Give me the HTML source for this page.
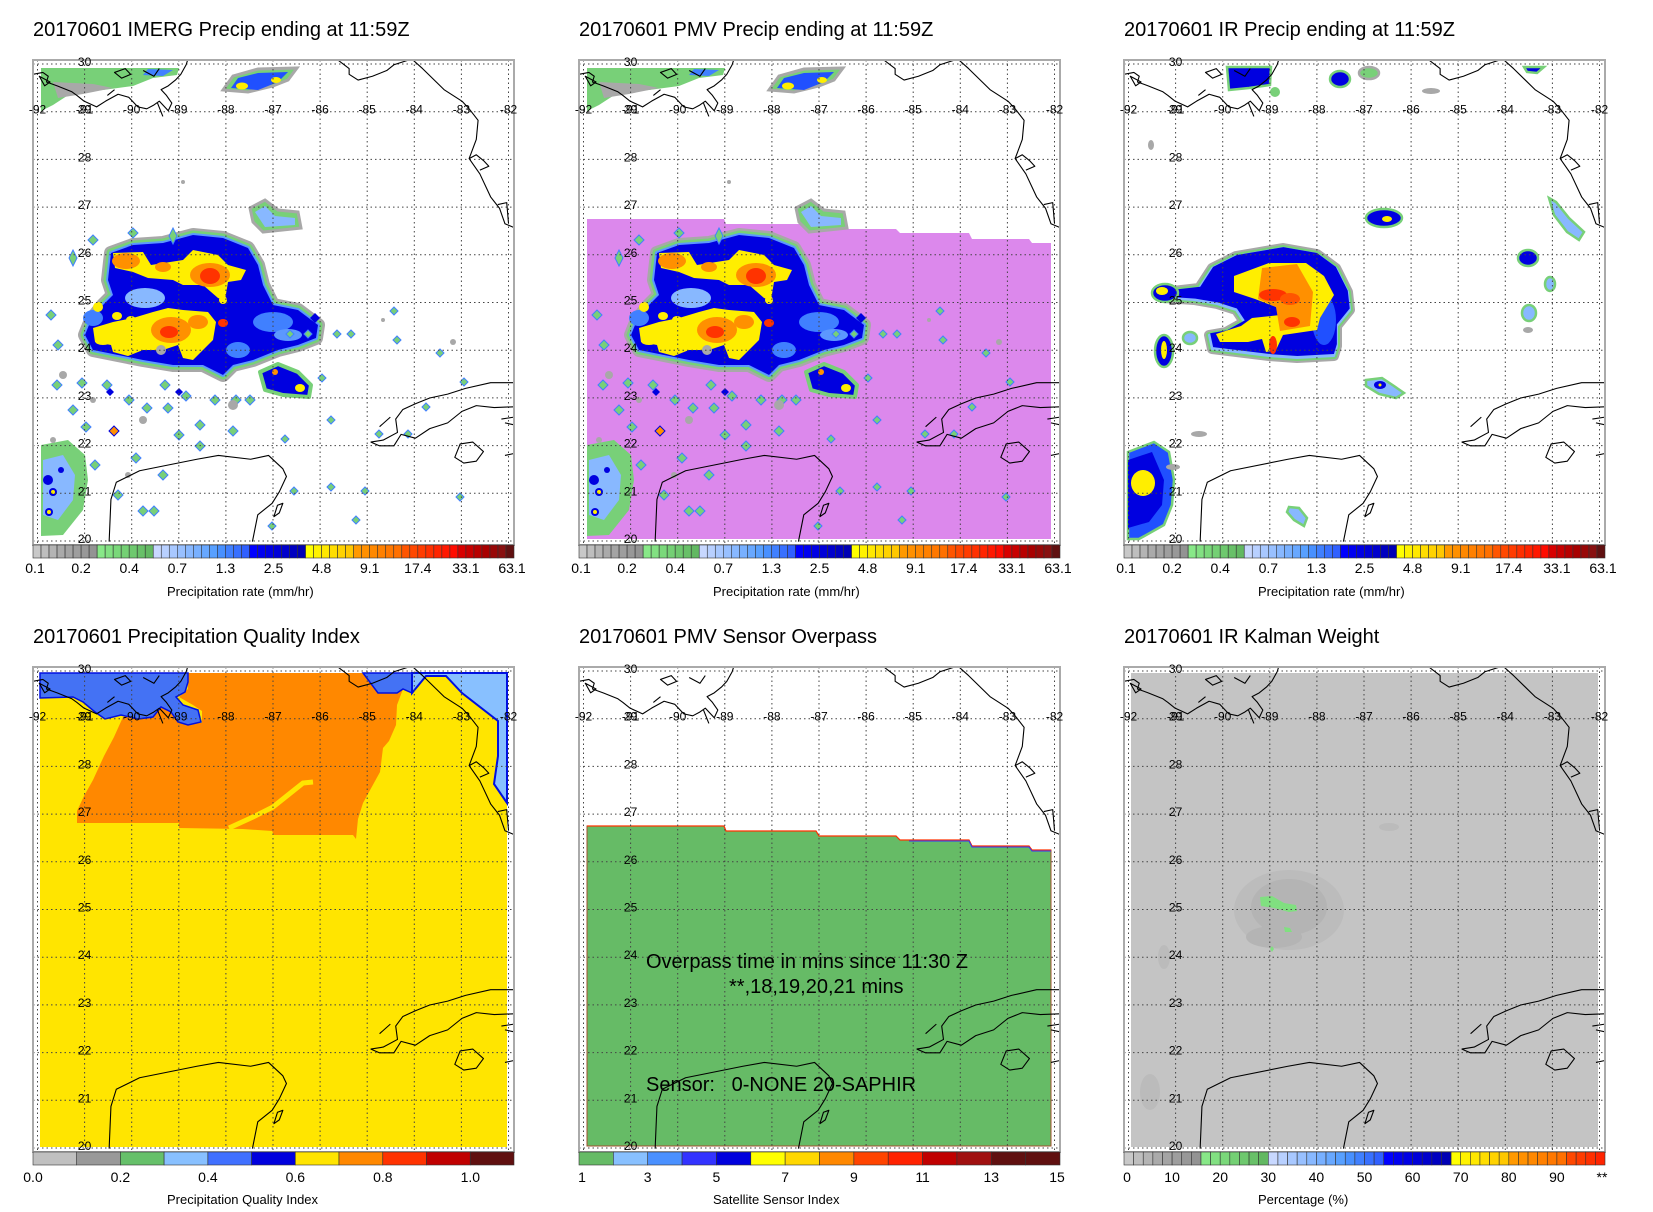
<!DOCTYPE html>
<html><head><meta charset="utf-8"><style>
html,body{margin:0;padding:0;background:#fff}
svg{display:block}
text{font-family:"Liberation Sans",sans-serif;fill:#000}
.t{font-size:20px}
.ml{font-size:12px;text-anchor:middle}
.cl{font-size:14px;text-anchor:middle}
.al{font-size:13px}
</style></head><body>
<svg width="1653" height="1212" viewBox="0 0 1653 1212" xmlns="http://www.w3.org/2000/svg">
<defs>
<clipPath id="clip"><rect x="0" y="0" width="481" height="485"/></clipPath>
<path id="cluc" d="M78,193 L100,185 L130,183 L160,175 L190,178 L215,188 L225,205 L230,225 L240,245 L265,250 L285,265 L283,278 L265,285 L245,290 L220,300 L200,305 L190,315 L170,305 L140,305 L110,300 L85,295 L60,290 L52,275 L58,260 L70,245 L80,235 L75,220 Z"/>
<path id="irc" d="M40,232 L75,228 L88,208 L112,196 L159,188 L193,194 L212,208 L224,232 L226,250 L213,266 L213,286 L210,296 L173,298 L145,296 L88,289 L85,275 L102,272 L120,262 L112,250 L93,244 L70,240 L40,238 Z"/>
<g id="grid" stroke="#444" stroke-width="1" stroke-dasharray="1.5 3" fill="none">
<path d="M4.5 0V485M51.6 0V485M98.7 0V485M145.8 0V485M192.9 0V485M240 0V485M287.1 0V485M334.2 0V485M381.3 0V485M428.4 0V485M475.5 0V485"/>
<path d="M0 4H481M0 51.7H481M0 99.4H481M0 147.1H481M0 194.8H481M0 242.5H481M0 290.2H481M0 337.9H481M0 385.6H481M0 433.3H481M0 481H481"/>
</g>
<g id="coast" fill="none" stroke="#000" stroke-width="1.1" stroke-linejoin="round">
<g transform="translate(4.5 4) scale(0.3582 0.383) translate(-105 -183)">
<path vector-effect="non-scaling-stroke" d="M92,210 L120,205 L135,215 L130,230 L160,240 L200,255 L215,265 L235,280 L270,295 L295,280 L330,262 L360,270 L385,295 L410,300 L430,290 L445,280 L460,295 L470,305 L480,285 L465,265 L450,250 L470,240 L490,225 L505,210 L520,185 L525,170"/>
<path vector-effect="non-scaling-stroke" d="M110,215 L140,230 L125,240 Z M320,205 L350,195 L365,210 L340,220 Z M400,200 L430,215 L445,195 M440,285 L455,320 M300,265 L320,250"/>
<path vector-effect="non-scaling-stroke" d="M940,170 L975,195 L975,210 L1000,225 L1040,215 L1080,200 L1100,185 L1150,170 L1180,195 L1240,250 L1290,280 L1310,300 L1335,330 L1330,380 L1310,430 L1340,470 L1370,530 L1395,560 L1410,600 L1435,610"/>
<path vector-effect="non-scaling-stroke" d="M1310,430 L1330,420 L1350,435 L1365,450 L1340,460 M1390,550 L1415,545 L1420,600"/>
<path vector-effect="non-scaling-stroke" d="M305,1430 L310,1320 L325,1275 L390,1245 L550,1215 L610,1205 L700,1215 L750,1205 L790,1240 L800,1260 L780,1300 L760,1330 L720,1360 L705,1430"/>
<path vector-effect="non-scaling-stroke" d="M765,1365 L775,1335 L790,1330 L780,1355 Z"/>
<path vector-effect="non-scaling-stroke" d="M1035,1170 L1070,1165 L1110,1145 L1105,1110 L1125,1085 L1160,1070 L1200,1055 L1250,1045 L1300,1030 L1370,1015 L1435,1015 M1035,1170 L1060,1180 L1100,1180 L1120,1150 L1160,1160 L1200,1135 L1250,1120 L1290,1090 L1330,1075 L1380,1080 L1435,1078 M1400,1110 L1435,1105 L1435,1125 L1410,1120 M1270,1210 L1285,1175 L1320,1170 L1350,1195 L1330,1220 L1295,1225 Z M1060,1130 L1090,1105 M1410,1205 L1435,1200"/>
</g></g>
<g id="pcb" stroke="#333" stroke-width="0.6">
<rect x="0" y="0" width="8.02" height="13" fill="#c8c8c8"/><rect x="8.02" y="0" width="8.02" height="13" fill="#bebebe"/><rect x="16.03" y="0" width="8.02" height="13" fill="#b4b4b4"/><rect x="24.05" y="0" width="8.02" height="13" fill="#aaaaaa"/><rect x="32.07" y="0" width="8.02" height="13" fill="#a4a4a4"/><rect x="40.08" y="0" width="8.02" height="13" fill="#9e9e9e"/><rect x="48.1" y="0" width="8.02" height="13" fill="#989898"/><rect x="56.12" y="0" width="8.02" height="13" fill="#939393"/>
<rect x="64.13" y="0" width="8.02" height="13" fill="#88e888"/><rect x="72.15" y="0" width="8.02" height="13" fill="#82e082"/><rect x="80.17" y="0" width="8.02" height="13" fill="#7ad87a"/><rect x="88.18" y="0" width="8.02" height="13" fill="#74d074"/><rect x="96.2" y="0" width="8.02" height="13" fill="#6ec86e"/><rect x="104.22" y="0" width="8.02" height="13" fill="#68c068"/><rect x="112.23" y="0" width="8.02" height="13" fill="#62b862"/>
<rect x="120.25" y="0" width="8.02" height="13" fill="#c8d8ff"/><rect x="128.27" y="0" width="8.02" height="13" fill="#b8d0ff"/><rect x="136.28" y="0" width="8.02" height="13" fill="#a8c8ff"/><rect x="144.3" y="0" width="8.02" height="13" fill="#98c0ff"/><rect x="152.32" y="0" width="8.02" height="13" fill="#88b8ff"/><rect x="160.33" y="0" width="8.02" height="13" fill="#78b0ff"/><rect x="168.35" y="0" width="8.02" height="13" fill="#68a8ff"/><rect x="176.37" y="0" width="8.02" height="13" fill="#58a0ff"/><rect x="184.38" y="0" width="8.02" height="13" fill="#4890ff"/><rect x="192.4" y="0" width="8.02" height="13" fill="#4080ff"/><rect x="200.42" y="0" width="8.02" height="13" fill="#3870ff"/><rect x="208.43" y="0" width="8.02" height="13" fill="#3060ff"/>
<rect x="216.45" y="0" width="8.02" height="13" fill="#0000ff"/><rect x="224.47" y="0" width="8.02" height="13" fill="#0000f0"/><rect x="232.48" y="0" width="8.02" height="13" fill="#0000e4"/><rect x="240.5" y="0" width="8.02" height="13" fill="#0000d8"/><rect x="248.52" y="0" width="8.02" height="13" fill="#0000cc"/><rect x="256.53" y="0" width="8.02" height="13" fill="#0000c0"/><rect x="264.55" y="0" width="8.02" height="13" fill="#0000b4"/>
<rect x="272.57" y="0" width="8.02" height="13" fill="#ffff00"/><rect x="280.58" y="0" width="8.02" height="13" fill="#fff200"/><rect x="288.6" y="0" width="8.02" height="13" fill="#ffe800"/><rect x="296.62" y="0" width="8.02" height="13" fill="#ffdd00"/><rect x="304.63" y="0" width="8.02" height="13" fill="#ffd200"/><rect x="312.65" y="0" width="8.02" height="13" fill="#ffc800"/>
<rect x="320.67" y="0" width="8.02" height="13" fill="#ff9900"/><rect x="328.68" y="0" width="8.02" height="13" fill="#ff9000"/><rect x="336.7" y="0" width="8.02" height="13" fill="#ff8800"/><rect x="344.72" y="0" width="8.02" height="13" fill="#ff8000"/><rect x="352.73" y="0" width="8.02" height="13" fill="#ff7800"/><rect x="360.75" y="0" width="8.02" height="13" fill="#ff7000"/>
<rect x="368.77" y="0" width="8.02" height="13" fill="#ff5500"/><rect x="376.78" y="0" width="8.02" height="13" fill="#ff4800"/><rect x="384.8" y="0" width="8.02" height="13" fill="#ff3c00"/><rect x="392.82" y="0" width="8.02" height="13" fill="#ff3000"/><rect x="400.83" y="0" width="8.02" height="13" fill="#ff2400"/><rect x="408.85" y="0" width="8.02" height="13" fill="#ff1800"/><rect x="416.87" y="0" width="8.02" height="13" fill="#ff0c00"/>
<rect x="424.88" y="0" width="8.02" height="13" fill="#d80000"/><rect x="432.9" y="0" width="8.02" height="13" fill="#c80000"/><rect x="440.92" y="0" width="8.02" height="13" fill="#b80000"/><rect x="448.93" y="0" width="8.02" height="13" fill="#a80000"/><rect x="456.95" y="0" width="8.02" height="13" fill="#980808"/><rect x="464.97" y="0" width="8.02" height="13" fill="#881010"/><rect x="472.98" y="0" width="8.02" height="13" fill="#601010"/>
</g>
<g id="clu">
<path d="M8,8 L146,8 L144,15 L120,18 L100,26 L70,30 L40,32 L20,45 L8,51 Z" fill="#78d078"/>
<path d="M20,22 L60,24 L80,28 L50,34 L25,38 Z" fill="#a8a8a8"/>
<path d="M115,9 L140,10 L130,16 L110,15 Z" fill="#4080ff"/>
<path d="M8,385 L35,380 L52,395 L55,420 L50,450 L30,475 L8,476 Z" fill="#78d078"/>
<path d="M10,400 L30,395 L42,415 L40,440 L25,460 L10,455 Z" fill="#88b8ff"/>
<circle cx="15" cy="420" r="5" fill="#0000e0"/><circle cx="20" cy="432" r="4" fill="#0000e0"/><circle cx="28" cy="410" r="3" fill="#0000e0"/><circle cx="16" cy="452" r="4" fill="#0000e0"/><circle cx="16" cy="452" r="2" fill="#ffee00"/><circle cx="20" cy="432" r="2" fill="#ffee00"/>
<path d="M190,30 L200,16 L225,9 L264,8 L255,20 L240,26 L215,32 Z" fill="#78d078" stroke="#a8a8a8" stroke-width="3"/>
<path d="M198,28 L205,18 L225,13 L255,12 L245,22 L225,30 Z" fill="#2050ff"/>
<ellipse cx="209" cy="26" rx="6" ry="3.5" fill="#ffee00"/><ellipse cx="243" cy="20" rx="5" ry="3" fill="#ffee00"/>
<path d="M217,148 L232,140 L245,150 L265,152 L268,168 L230,172 L220,162 Z" fill="#78d078" stroke="#a8a8a8" stroke-width="3"/>
<path d="M222,152 L232,146 L242,156 L262,158 L262,165 L232,167 Z" fill="#88b8ff"/>
<g stroke-linejoin="round">
<use href="#cluc" fill="#a8a8a8" stroke="#a8a8a8" stroke-width="14"/>
<use href="#cluc" fill="#78d078" stroke="#78d078" stroke-width="9"/>
<use href="#cluc" fill="#5c98ff" stroke="#5c98ff" stroke-width="4"/>
<use href="#cluc" fill="#0000e0"/>
</g>
<ellipse cx="112" cy="238" rx="20" ry="10" fill="#88b8ff"/><ellipse cx="240" cy="262" rx="20" ry="10" fill="#4080ff"/><ellipse cx="205" cy="290" rx="12" ry="8" fill="#4080ff"/><ellipse cx="60" cy="258" rx="10" ry="8" fill="#4080ff"/><ellipse cx="255" cy="275" rx="14" ry="6" fill="#5c98ff"/>
<path d="M80,193 L110,192 L118,205 L150,200 L160,190 L185,195 L195,205 L213,210 L208,220 L195,222 L192,240 L185,238 L170,225 L150,225 L140,220 L115,218 L100,212 L82,208 Z" fill="#ffee00"/>
<path d="M60,268 L80,262 L100,258 L120,252 L135,248 L150,250 L175,252 L183,262 L180,280 L170,290 L160,300 L150,298 L145,285 L130,290 L110,290 L95,296 L80,292 L78,285 L62,282 Z" fill="#ffee00"/>
<ellipse cx="93" cy="201" rx="14" ry="8" fill="#ff9000"/><ellipse cx="177" cy="215" rx="20" ry="12" fill="#ff9000"/><ellipse cx="138" cy="270" rx="20" ry="13" fill="#ff9000"/><ellipse cx="165" cy="262" rx="10" ry="7" fill="#ff9000"/><ellipse cx="130" cy="207" rx="8" ry="5" fill="#ff9000"/>
<ellipse cx="177" cy="216" rx="10" ry="8" fill="#ff3300"/><ellipse cx="136" cy="272" rx="9" ry="6" fill="#ff3300"/><ellipse cx="190" cy="263" rx="5" ry="4" fill="#ff3300"/>
<ellipse cx="70" cy="281" rx="8" ry="4" fill="#ffee00"/><ellipse cx="84" cy="256" rx="5" ry="4" fill="#ffee00"/><ellipse cx="65" cy="247" rx="5" ry="5" fill="#ffee00"/><ellipse cx="98" cy="260" rx="5" ry="4" fill="#ffee00"/><ellipse cx="190" cy="240" rx="4" ry="4" fill="#ffee00"/>
<path d="M227,312 L245,304 L265,312 L278,325 L276,337 L250,335 L232,330 Z" fill="#0000e0" stroke="#78d078" stroke-width="4" stroke-linejoin="round"/>
<ellipse cx="267" cy="328" rx="5" ry="4" fill="#ffee00"/><ellipse cx="242" cy="312" rx="3" ry="3" fill="#ff9000"/>
<g fill="#78d078" stroke="#4080ff" stroke-width="1">
<path d="M361,247l4,4-4,4-4-4z"/><path d="M364,276l4,4-4,4-4-4z"/><path d="M407,289l4,4-4,4-4-4z"/><path d="M431,318l4,4-4,4-4-4z"/><path d="M393,343l4,4-4,4-4-4z"/><path d="M375,370l4,4-4,4-4-4z"/><path d="M346,370l4,4-4,4-4-4z"/><path d="M298,356l4,4-4,4-4-4z"/><path d="M252,375l4,4-4,4-4-4z"/><path d="M261,427l4,4-4,4-4-4z"/><path d="M298,423l4,4-4,4-4-4z"/><path d="M332,427l4,4-4,4-4-4z"/><path d="M427,433l4,4-4,4-4-4z"/><path d="M323,456l4,4-4,4-4-4z"/><path d="M239,462l4,4-4,4-4-4z"/><path d="M289,314l4,4-4,4-4-4z"/><path d="M304,270l4,4-4,4-4-4z"/><path d="M318,270l4,4-4,4-4-4z"/><path d="M275,270l4,4-4,4-4-4z"/><path d="M257,270l4,4-4,4-4-4z"/>
<path d="M24,320l5,5-5,5-5-5z"/><path d="M49,318l5,5-5,5-5-5z"/><path d="M74,320l5,5-5,5-5-5z"/><path d="M96,335l5,5-5,5-5-5z"/><path d="M114,343l5,5-5,5-5-5z"/><path d="M135,343l5,5-5,5-5-5z"/><path d="M146,370l5,5-5,5-5-5z"/><path d="M167,360l5,5-5,5-5-5z"/><path d="M200,366l5,5-5,5-5-5z"/><path d="M182,335l5,5-5,5-5-5z"/><path d="M203,335l5,5-5,5-5-5z"/><path d="M217,335l5,5-5,5-5-5z"/><path d="M132,320l5,5-5,5-5-5z"/><path d="M153,331l5,5-5,5-5-5z"/><path d="M103,393l5,5-5,5-5-5z"/><path d="M110,446l5,5-5,5-5-5z"/><path d="M121,446l5,5-5,5-5-5z"/><path d="M167,381l5,5-5,5-5-5z"/><path d="M53,362l5,5-5,5-5-5z"/><path d="M40,345l5,5-5,5-5-5z"/><path d="M62,400l5,5-5,5-5-5z"/><path d="M85,430l5,5-5,5-5-5z"/><path d="M130,410l5,5-5,5-5-5z"/><path d="M40,190l4,8-4,8-4-8z"/><path d="M60,175l5,5-5,5-5-5z"/><path d="M100,168l5,5-5,5-5-5z"/><path d="M140,168l4,8-4,8-4-8z"/><path d="M18,250l5,5-5,5-5-5z"/><path d="M25,280l5,5-5,5-5-5z"/>
</g>
<path d="M81,366l5,5-5,5-5-5z" fill="#ff9000" stroke="#0000e0"/><path d="M282,253l5,5-5,5-5-5z" fill="#0000e0"/><path d="M146,328l4,4-4,4-4-4z" fill="#0000e0"/><path d="M77,328l4,4-4,4-4-4z" fill="#0000e0"/>
<g fill="#a8a8a8"><circle cx="150" cy="122" r="2"/><circle cx="128" cy="290" r="5"/><circle cx="30" cy="315" r="4"/><circle cx="60" cy="340" r="3"/><circle cx="200" cy="345" r="5"/><circle cx="110" cy="360" r="4"/><circle cx="95" cy="415" r="3"/><circle cx="20" cy="380" r="3"/><circle cx="420" cy="282" r="3"/><circle cx="350" cy="260" r="2"/></g>
</g>
</defs>

<text class="t" x="33" y="36">20170601 IMERG Precip ending at 11:59Z</text>
<text class="t" x="579" y="36">20170601 PMV Precip ending at 11:59Z</text>
<text class="t" x="1124" y="36">20170601 IR Precip ending at 11:59Z</text>
<text class="t" x="33" y="643">20170601 Precipitation Quality Index</text>
<text class="t" x="579" y="643">20170601 PMV Sensor Overpass</text>
<text class="t" x="1124" y="643">20170601 IR Kalman Weight</text>

<g transform="translate(33 60)">
<g clip-path="url(#clip)"><use href="#clu"/><use href="#grid"/><use href="#coast"/></g>
<rect x="0" y="0" width="481" height="485" fill="none" stroke="#aaa" stroke-width="2"/>
<use href="#pcb" y="485"/>
<g class="ml"><text x="51.6" y="6">30</text><text x="51.6" y="101.4">28</text><text x="51.6" y="149.1">27</text><text x="51.6" y="196.8">26</text><text x="51.6" y="244.5">25</text><text x="51.6" y="292.2">24</text><text x="51.6" y="339.9">23</text><text x="51.6" y="387.6">22</text><text x="51.6" y="435.3">21</text><text x="51.6" y="483">20</text><text x="51.6" y="53.7">29</text>
<text x="4.5" y="53.7">-92</text><text x="51.6" y="53.7">-91</text><text x="98.7" y="53.7">-90</text><text x="145.8" y="53.7">-89</text><text x="192.9" y="53.7">-88</text><text x="240" y="53.7">-87</text><text x="287.1" y="53.7">-86</text><text x="334.2" y="53.7">-85</text><text x="381.3" y="53.7">-84</text><text x="428.4" y="53.7">-83</text><text x="475.5" y="53.7">-82</text></g>
<g class="cl"><text x="2" y="513">0.1</text><text x="48.1" y="513">0.2</text><text x="96.2" y="513">0.4</text><text x="144.3" y="513">0.7</text><text x="192.4" y="513">1.3</text><text x="240.5" y="513">2.5</text><text x="288.6" y="513">4.8</text><text x="336.7" y="513">9.1</text><text x="384.8" y="513">17.4</text><text x="432.9" y="513">33.1</text><text x="479" y="513">63.1</text></g>
<text class="al" x="134" y="536">Precipitation rate (mm/hr)</text>
</g>

<g transform="translate(579 60)">
<g clip-path="url(#clip)">
<path d="M8,159 L145,159 L147,164 L237,164 L240,169 L317,169 L321,173 L390,173 L393,179 L450,179 L453,183 L472,183 L472,479 L8,479 Z" fill="#dc88ec"/>
<use href="#clu"/><use href="#grid"/><use href="#coast"/></g>
<rect x="0" y="0" width="481" height="485" fill="none" stroke="#aaa" stroke-width="2"/>
<use href="#pcb" y="485"/>
<g class="ml"><text x="51.6" y="6">30</text><text x="51.6" y="101.4">28</text><text x="51.6" y="149.1">27</text><text x="51.6" y="196.8">26</text><text x="51.6" y="244.5">25</text><text x="51.6" y="292.2">24</text><text x="51.6" y="339.9">23</text><text x="51.6" y="387.6">22</text><text x="51.6" y="435.3">21</text><text x="51.6" y="483">20</text><text x="51.6" y="53.7">29</text>
<text x="4.5" y="53.7">-92</text><text x="51.6" y="53.7">-91</text><text x="98.7" y="53.7">-90</text><text x="145.8" y="53.7">-89</text><text x="192.9" y="53.7">-88</text><text x="240" y="53.7">-87</text><text x="287.1" y="53.7">-86</text><text x="334.2" y="53.7">-85</text><text x="381.3" y="53.7">-84</text><text x="428.4" y="53.7">-83</text><text x="475.5" y="53.7">-82</text></g>
<g class="cl"><text x="2" y="513">0.1</text><text x="48.1" y="513">0.2</text><text x="96.2" y="513">0.4</text><text x="144.3" y="513">0.7</text><text x="192.4" y="513">1.3</text><text x="240.5" y="513">2.5</text><text x="288.6" y="513">4.8</text><text x="336.7" y="513">9.1</text><text x="384.8" y="513">17.4</text><text x="432.9" y="513">33.1</text><text x="479" y="513">63.1</text></g>
<text class="al" x="134" y="536">Precipitation rate (mm/hr)</text>
</g>

<g transform="translate(1124 60)">
<g clip-path="url(#clip)">
<g stroke-linejoin="round">
<use href="#irc" fill="#a8a8a8" stroke="#a8a8a8" stroke-width="10"/>
<use href="#irc" fill="#78d078" stroke="#78d078" stroke-width="6"/>
<use href="#irc" fill="#88b8ff" stroke="#88b8ff" stroke-width="2"/>
<use href="#irc" fill="#0000e0" transform="translate(2 1) scale(0.99)"/>
</g>
<ellipse cx="200" cy="260" rx="12" ry="25" fill="#2050ff"/>
<path d="M110,216 L145,203 L182,203 L200,216 L210,235 L196,258 L193,270 L159,275 L152,290 L142,292 L138,279 L124,282 L96,282 L92,274 L117,266 L128,258 L156,255 L152,247 L131,239 L110,232 Z" fill="#ffee00"/>
<path d="M138,208 L173,204 L189,232 L186,266 L156,271 L152,247 L134,239 Z" fill="#ff9000"/>
<ellipse cx="149" cy="235" rx="14" ry="6" fill="#ff3300"/><ellipse cx="166" cy="239" rx="10" ry="6" fill="#ff5500"/><ellipse cx="149" cy="285" rx="4" ry="9" fill="#ff3300"/><ellipse cx="168" cy="262" rx="8" ry="5" fill="#ff3300"/>
<g stroke-width="2.5">
<ellipse cx="260" cy="158" rx="18" ry="9" fill="#0000e0" stroke="#78d078"/><ellipse cx="263" cy="159" rx="5" ry="3" fill="#ffee00"/>
<ellipse cx="41" cy="233" rx="13" ry="9" fill="#0000e0" stroke="#78d078"/><ellipse cx="38" cy="231" rx="6" ry="4" fill="#ffee00"/>
<ellipse cx="40" cy="291" rx="9" ry="16" fill="#0000e0" stroke="#78d078"/><ellipse cx="40" cy="290" rx="3" ry="9" fill="#ffee00"/>
<ellipse cx="66" cy="278" rx="7" ry="6" fill="#88b8ff" stroke="#78d078"/>
<path d="M4,392 L30,382 L45,392 L50,420 L48,445 L40,465 L15,479 L4,479 Z" fill="#2050ff" stroke="#78d078"/>
<path d="M4,400 L28,392 L40,420 L38,445 L25,462 L4,468 Z" fill="#0000e0" stroke="none"/>
<ellipse cx="19" cy="423" rx="12" ry="13" fill="#ffee00" stroke="none"/>
<path d="M242,320 L258,318 L270,326 L280,333 L272,338 L255,334 L242,326 Z" fill="#88b8ff" stroke="#78d078"/><ellipse cx="256" cy="325" rx="6" ry="4" fill="#0000e0" stroke="none"/><circle cx="256" cy="325" r="1.5" fill="#ffee00" stroke="none"/>
<ellipse cx="404" cy="198" rx="10" ry="8" fill="#0000e0" stroke="#78d078"/>
<path d="M425,138 L432,142 L445,158 L460,172 L455,180 L443,172 L430,155 Z" fill="#88b8ff" stroke="#78d078"/>
<ellipse cx="426" cy="224" rx="5" ry="7" fill="#88b8ff" stroke="#78d078"/>
<ellipse cx="405" cy="253" rx="7" ry="8" fill="#88b8ff" stroke="#78d078"/>
<ellipse cx="216" cy="19" rx="10" ry="8" fill="#0000e0" stroke="#78d078"/>
<ellipse cx="245" cy="13" rx="10" ry="6" fill="#78d078" stroke="#a8a8a8"/>
<path d="M103,7 L147,7 L146,25 L125,28 L105,30 Z" fill="#0000e0" stroke="#78d078"/>
<circle cx="151" cy="32" r="5" fill="#78d078" stroke="none"/>
<path d="M165,447 L175,448 L183,458 L180,466 L170,460 L163,452 Z" fill="#88b8ff" stroke="#78d078"/>
<path d="M400,7 L420,7 L413,13 L403,12 Z" fill="#0000e0" stroke="#78d078"/>
</g>
<g fill="#a8a8a8"><ellipse cx="75" cy="374" rx="8" ry="3"/><ellipse cx="307" cy="31" rx="9" ry="3"/><ellipse cx="27" cy="85" rx="3" ry="5"/><ellipse cx="404" cy="270" rx="5" ry="3"/><ellipse cx="49" cy="407" rx="7" ry="3"/></g>
<use href="#grid"/><use href="#coast"/></g>
<rect x="0" y="0" width="481" height="485" fill="none" stroke="#aaa" stroke-width="2"/>
<use href="#pcb" y="485"/>
<g class="ml"><text x="51.6" y="6">30</text><text x="51.6" y="101.4">28</text><text x="51.6" y="149.1">27</text><text x="51.6" y="196.8">26</text><text x="51.6" y="244.5">25</text><text x="51.6" y="292.2">24</text><text x="51.6" y="339.9">23</text><text x="51.6" y="387.6">22</text><text x="51.6" y="435.3">21</text><text x="51.6" y="483">20</text><text x="51.6" y="53.7">29</text>
<text x="4.5" y="53.7">-92</text><text x="51.6" y="53.7">-91</text><text x="98.7" y="53.7">-90</text><text x="145.8" y="53.7">-89</text><text x="192.9" y="53.7">-88</text><text x="240" y="53.7">-87</text><text x="287.1" y="53.7">-86</text><text x="334.2" y="53.7">-85</text><text x="381.3" y="53.7">-84</text><text x="428.4" y="53.7">-83</text><text x="475.5" y="53.7">-82</text></g>
<g class="cl"><text x="2" y="513">0.1</text><text x="48.1" y="513">0.2</text><text x="96.2" y="513">0.4</text><text x="144.3" y="513">0.7</text><text x="192.4" y="513">1.3</text><text x="240.5" y="513">2.5</text><text x="288.6" y="513">4.8</text><text x="336.7" y="513">9.1</text><text x="384.8" y="513">17.4</text><text x="432.9" y="513">33.1</text><text x="479" y="513">63.1</text></g>
<text class="al" x="134" y="536">Precipitation rate (mm/hr)</text>
</g>

<g transform="translate(33 667)">
<g clip-path="url(#clip)">
<rect x="7" y="6" width="467" height="474" fill="#ffe500"/>
<path d="M155,6 L330,6 L345,26 L364,26 L370,22 L364,38 L363,58 L356,74 L350,81 L347,105 L336,125 L330,136 L325,152 L323,172 L320,168 L241,168 L239,164 L210,162 L146,161 L146,156 L44,156 L44,144 L51,129 L60,113 L71,89 L81,70 L90,50 L99,48 L110,52 L121,50 L128,38 L139,46 L153,56 L169,56 L169,44 L160,38 L146,30 L155,22 Z" fill="#ff8800"/>
<path d="M196,161 L220,150 L240,140 L255,128 L270,116 L280,115" fill="none" stroke="#ffe500" stroke-width="5"/>
<path d="M7,6 L155,6 L155,15 L152,25 L143,30 L150,38 L165,43 L168,55 L155,58 L145,55 L138,45 L128,40 L120,50 L105,52 L88,48 L72,52 L62,45 L50,35 L40,30 L7,31 Z" fill="#4472f4" stroke="#0010e0" stroke-width="1.5"/>
<path d="M330,6 L379,6 L379,26 L370,22 L364,26 L345,26 Z" fill="#4472f4" stroke="#0010e0" stroke-width="1.5"/>
<path d="M379,6 L474,6 L474,136 L461,117 L465,89 L465,54 L429,26 L413,9 L393,9 L379,26 Z" fill="#88c0ff" stroke="#0010e0" stroke-width="2"/>
<use href="#grid"/><use href="#coast"/></g>
<rect x="0" y="0" width="481" height="485" fill="none" stroke="#aaa" stroke-width="2"/>
<g stroke="#333" stroke-width="0.6"><rect x="0" y="485" width="43.7" height="13" fill="#c0c0c0"/><rect x="43.7" y="485" width="43.7" height="13" fill="#999"/><rect x="87.4" y="485" width="43.7" height="13" fill="#66c06a"/><rect x="131.1" y="485" width="43.7" height="13" fill="#88c0ff"/><rect x="174.9" y="485" width="43.7" height="13" fill="#4070ff"/><rect x="218.6" y="485" width="43.7" height="13" fill="#0000dd"/><rect x="262.3" y="485" width="43.7" height="13" fill="#ffe400"/><rect x="306" y="485" width="43.7" height="13" fill="#ff8800"/><rect x="349.8" y="485" width="43.7" height="13" fill="#ff3300"/><rect x="393.5" y="485" width="43.7" height="13" fill="#c00000"/><rect x="437.3" y="485" width="43.7" height="13" fill="#601010"/></g>
<g class="cl"><text x="0" y="515">0.0</text><text x="87.4" y="515">0.2</text><text x="174.9" y="515">0.4</text><text x="262.3" y="515">0.6</text><text x="349.8" y="515">0.8</text><text x="437.3" y="515">1.0</text></g>
<text class="al" x="134" y="537">Precipitation Quality Index</text>
<g class="ml"><text x="51.6" y="6">30</text><text x="51.6" y="101.4">28</text><text x="51.6" y="149.1">27</text><text x="51.6" y="196.8">26</text><text x="51.6" y="244.5">25</text><text x="51.6" y="292.2">24</text><text x="51.6" y="339.9">23</text><text x="51.6" y="387.6">22</text><text x="51.6" y="435.3">21</text><text x="51.6" y="483">20</text><text x="51.6" y="53.7">29</text>
<text x="4.5" y="53.7">-92</text><text x="51.6" y="53.7">-91</text><text x="98.7" y="53.7">-90</text><text x="145.8" y="53.7">-89</text><text x="192.9" y="53.7">-88</text><text x="240" y="53.7">-87</text><text x="287.1" y="53.7">-86</text><text x="334.2" y="53.7">-85</text><text x="381.3" y="53.7">-84</text><text x="428.4" y="53.7">-83</text><text x="475.5" y="53.7">-82</text></g>
</g>

<g transform="translate(579 667)">
<g clip-path="url(#clip)">
<path d="M8,159 L145,159 L147,164 L237,164 L240,169 L317,169 L321,173 L390,173 L393,179 L450,179 L453,183 L472,183 L472,479 L8,479 Z" fill="#66bb66" stroke="#a0522d" stroke-width="1"/>
<path d="M8,159 L145,159 L147,164 L237,164 L240,169 L317,169 L321,173 L390,173 L393,179 L450,179 L453,183 L472,183" fill="none" stroke="#ff3300" stroke-width="1.2"/>
<path d="M330,174 L390,174 L393,180 L450,180 L453,184 L472,184" fill="none" stroke="#3333ff" stroke-width="1"/>
<use href="#grid"/><use href="#coast"/></g>
<rect x="0" y="0" width="481" height="485" fill="none" stroke="#aaa" stroke-width="2"/>
<g stroke="#333" stroke-width="0.6"><rect x="0" y="485" width="34.36" height="13" fill="#66bb66"/><rect x="34.36" y="485" width="34.36" height="13" fill="#88c0ff"/><rect x="68.71" y="485" width="34.36" height="13" fill="#4a90ff"/><rect x="103.07" y="485" width="34.36" height="13" fill="#3333ff"/><rect x="137.43" y="485" width="34.36" height="13" fill="#0000dd"/><rect x="171.79" y="485" width="34.36" height="13" fill="#ffff00"/><rect x="206.14" y="485" width="34.36" height="13" fill="#ffd700"/><rect x="240.5" y="485" width="34.36" height="13" fill="#ff8800"/><rect x="274.86" y="485" width="34.36" height="13" fill="#ff4400"/><rect x="309.21" y="485" width="34.36" height="13" fill="#ff2200"/><rect x="343.57" y="485" width="34.36" height="13" fill="#c00000"/><rect x="377.93" y="485" width="34.36" height="13" fill="#a01010"/><rect x="412.29" y="485" width="34.36" height="13" fill="#601010"/><rect x="446.64" y="485" width="34.36" height="13" fill="#601010"/></g>
<g class="cl"><text x="3" y="515">1</text><text x="68.7" y="515">3</text><text x="137.4" y="515">5</text><text x="206.1" y="515">7</text><text x="274.9" y="515">9</text><text x="343.6" y="515">11</text><text x="412.3" y="515">13</text><text x="478" y="515">15</text></g>
<text class="al" x="134" y="537">Satellite Sensor Index</text>
<g class="ml"><text x="51.6" y="6">30</text><text x="51.6" y="101.4">28</text><text x="51.6" y="149.1">27</text><text x="51.6" y="196.8">26</text><text x="51.6" y="244.5">25</text><text x="51.6" y="292.2">24</text><text x="51.6" y="339.9">23</text><text x="51.6" y="387.6">22</text><text x="51.6" y="435.3">21</text><text x="51.6" y="483">20</text><text x="51.6" y="53.7">29</text>
<text x="4.5" y="53.7">-92</text><text x="51.6" y="53.7">-91</text><text x="98.7" y="53.7">-90</text><text x="145.8" y="53.7">-89</text><text x="192.9" y="53.7">-88</text><text x="240" y="53.7">-87</text><text x="287.1" y="53.7">-86</text><text x="334.2" y="53.7">-85</text><text x="381.3" y="53.7">-84</text><text x="428.4" y="53.7">-83</text><text x="475.5" y="53.7">-82</text></g>
<text x="67" y="301" style="font-size:20px">Overpass time in mins since 11:30 Z</text>
<text x="150" y="326" style="font-size:20px">**,18,19,20,21 mins</text>
<text x="67" y="424" style="font-size:20px;white-space:pre" xml:space="preserve">Sensor:   0-NONE 20-SAPHIR</text>
</g>

<g transform="translate(1124 667)">
<g clip-path="url(#clip)">
<rect x="7" y="6" width="467" height="474" fill="#c4c4c4"/>
<ellipse cx="165" cy="243" rx="55" ry="40" fill="#bcbcbc"/>
<ellipse cx="165" cy="240" rx="38" ry="28" fill="#b4b4b4"/>
<ellipse cx="150" cy="270" rx="28" ry="11" fill="#b4b4b4"/>
<ellipse cx="40" cy="290" rx="6" ry="12" fill="#bbbbbb"/>
<ellipse cx="26" cy="425" rx="10" ry="18" fill="#bbbbbb"/>
<ellipse cx="265" cy="160" rx="10" ry="4" fill="#bbbbbb"/>
<path d="M136,230 L148,229 L160,236 L172,238 L173,244 L165,245 L150,241 L137,239 Z" fill="#80e080"/>
<path d="M160,260 L166,261 L168,265 L161,265 Z" fill="#80e080"/>
<path d="M148,279l2,3-2,3-2-3z" fill="#80e080"/>
<use href="#grid"/><use href="#coast"/></g>
<rect x="0" y="0" width="481" height="485" fill="none" stroke="#aaa" stroke-width="2"/>
<g stroke="#333" stroke-width="0.6">
<rect x="0" y="485" width="9.62" height="13" fill="#c8c8c8"/><rect x="9.62" y="485" width="9.62" height="13" fill="#bebebe"/><rect x="19.24" y="485" width="9.62" height="13" fill="#b4b4b4"/><rect x="28.86" y="485" width="9.62" height="13" fill="#aaaaaa"/><rect x="38.48" y="485" width="9.62" height="13" fill="#a4a4a4"/><rect x="48.1" y="485" width="9.62" height="13" fill="#9e9e9e"/><rect x="57.72" y="485" width="9.62" height="13" fill="#989898"/><rect x="67.34" y="485" width="9.62" height="13" fill="#939393"/>
<rect x="76.96" y="485" width="9.62" height="13" fill="#88e888"/><rect x="86.58" y="485" width="9.62" height="13" fill="#82e082"/><rect x="96.2" y="485" width="9.62" height="13" fill="#7ad87a"/><rect x="105.82" y="485" width="9.62" height="13" fill="#74d074"/><rect x="115.44" y="485" width="9.62" height="13" fill="#6ec86e"/><rect x="125.06" y="485" width="9.62" height="13" fill="#68c068"/><rect x="134.68" y="485" width="9.62" height="13" fill="#62b862"/>
<rect x="144.3" y="485" width="9.62" height="13" fill="#c8d8ff"/><rect x="153.92" y="485" width="9.62" height="13" fill="#b8d0ff"/><rect x="163.54" y="485" width="9.62" height="13" fill="#a8c8ff"/><rect x="173.16" y="485" width="9.62" height="13" fill="#98c0ff"/><rect x="182.78" y="485" width="9.62" height="13" fill="#88b8ff"/><rect x="192.4" y="485" width="9.62" height="13" fill="#78b0ff"/><rect x="202.02" y="485" width="9.62" height="13" fill="#68a8ff"/><rect x="211.64" y="485" width="9.62" height="13" fill="#58a0ff"/><rect x="221.26" y="485" width="9.62" height="13" fill="#4890ff"/><rect x="230.88" y="485" width="9.62" height="13" fill="#4080ff"/><rect x="240.5" y="485" width="9.62" height="13" fill="#3870ff"/><rect x="250.12" y="485" width="9.62" height="13" fill="#3060ff"/>
<rect x="259.74" y="485" width="9.62" height="13" fill="#0000ff"/><rect x="269.36" y="485" width="9.62" height="13" fill="#0000f0"/><rect x="278.98" y="485" width="9.62" height="13" fill="#0000e4"/><rect x="288.6" y="485" width="9.62" height="13" fill="#0000d8"/><rect x="298.22" y="485" width="9.62" height="13" fill="#0000cc"/><rect x="307.84" y="485" width="9.62" height="13" fill="#0000c0"/><rect x="317.46" y="485" width="9.62" height="13" fill="#0000b4"/>
<rect x="327.08" y="485" width="9.62" height="13" fill="#ffff00"/><rect x="336.7" y="485" width="9.62" height="13" fill="#fff200"/><rect x="346.32" y="485" width="9.62" height="13" fill="#ffe800"/><rect x="355.94" y="485" width="9.62" height="13" fill="#ffdd00"/><rect x="365.56" y="485" width="9.62" height="13" fill="#ffd200"/><rect x="375.18" y="485" width="9.62" height="13" fill="#ffc800"/>
<rect x="384.8" y="485" width="9.62" height="13" fill="#ff9900"/><rect x="394.42" y="485" width="9.62" height="13" fill="#ff9000"/><rect x="404.04" y="485" width="9.62" height="13" fill="#ff8800"/><rect x="413.66" y="485" width="9.62" height="13" fill="#ff8000"/><rect x="423.28" y="485" width="9.62" height="13" fill="#ff7800"/><rect x="432.9" y="485" width="9.62" height="13" fill="#ff7000"/>
<rect x="442.52" y="485" width="9.62" height="13" fill="#ff4800"/><rect x="452.14" y="485" width="9.62" height="13" fill="#ff3c00"/><rect x="461.76" y="485" width="9.62" height="13" fill="#ff3000"/><rect x="471.38" y="485" width="9.62" height="13" fill="#ff2400"/>
</g>
<g class="cl"><text x="3" y="515">0</text><text x="48.1" y="515">10</text><text x="96.2" y="515">20</text><text x="144.3" y="515">30</text><text x="192.4" y="515">40</text><text x="240.5" y="515">50</text><text x="288.6" y="515">60</text><text x="336.7" y="515">70</text><text x="384.8" y="515">80</text><text x="432.9" y="515">90</text><text x="478" y="515">**</text></g>
<text class="al" x="134" y="537">Percentage (%)</text>
<g class="ml"><text x="51.6" y="6">30</text><text x="51.6" y="101.4">28</text><text x="51.6" y="149.1">27</text><text x="51.6" y="196.8">26</text><text x="51.6" y="244.5">25</text><text x="51.6" y="292.2">24</text><text x="51.6" y="339.9">23</text><text x="51.6" y="387.6">22</text><text x="51.6" y="435.3">21</text><text x="51.6" y="483">20</text><text x="51.6" y="53.7">29</text>
<text x="4.5" y="53.7">-92</text><text x="51.6" y="53.7">-91</text><text x="98.7" y="53.7">-90</text><text x="145.8" y="53.7">-89</text><text x="192.9" y="53.7">-88</text><text x="240" y="53.7">-87</text><text x="287.1" y="53.7">-86</text><text x="334.2" y="53.7">-85</text><text x="381.3" y="53.7">-84</text><text x="428.4" y="53.7">-83</text><text x="475.5" y="53.7">-82</text></g>
</g>
</svg>
</body></html>
